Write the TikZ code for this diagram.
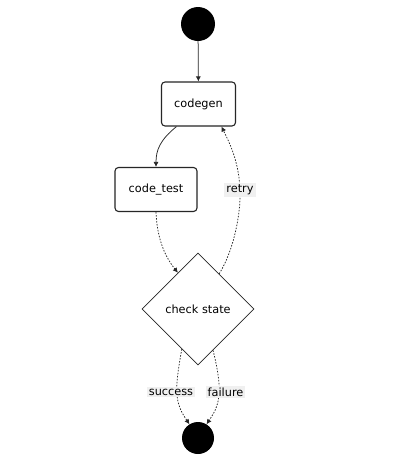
\documentclass[tikz,border=0pt]{standalone}
\usepackage{fontspec}
\setmainfont{DejaVu Sans}
\usetikzlibrary{shapes.geometric, arrows.meta}

\begin{document}
\begin{tikzpicture}[x=1pt, y=-1pt, font=\fontsize{11.3}{13}\selectfont,
	state/.style={draw=black!85, line width=1.1pt, rounded corners=3.5pt, fill=white, minimum height=44pt, inner sep=0pt},
	trans/.style={->, >={Latex[length=5pt, width=5pt]}, line width=0.75pt, black!85},
	cond/.style={trans, dash pattern=on 1.5pt off 1.5pt},
	lbl/.style={fill=black!6, inner sep=2pt}]% {{{ codegen loop
	\useasboundingbox[fill=white] (0,0) rectangle (411,469);

	\node[circle, fill=black, minimum size=34pt, inner sep=0pt] (start) at (198,24) {};
	\node[state, minimum width=74pt] (codegen) at (198.5,104) {codegen};
	\node[state, minimum width=82pt] (codetest) at (156,189.5) {code\_test};
	\node[diamond, draw=black!85, line width=0.8pt, fill=white, minimum size=112pt, inner sep=0pt] (check) at (198,309) {check state};
	\node[circle, fill=black, minimum size=32pt, inner sep=0pt] (final) at (198,438) {};

	\draw[trans] (start) -- (codegen);
	\draw[trans] ([xshift=-22pt]codegen.south) .. controls (160,140) and (156,150) .. (codetest.north);
	\draw[cond] (codetest.south) .. controls (157,240) and (166,258) .. (check.119);
	\draw[cond] (check.59) .. controls (233,252) and (241,215) .. (240,190)
		.. controls (239,160) and (228,140) .. ([xshift=23pt]codegen.south);
	\node[lbl] (retry) at (240,190) {retry};
	\draw[cond] (check.-112) .. controls (178,370) and (176,385) .. (177,395)
		.. controls (178,408) and (184,416) .. (final.122);
	\node[lbl] (success) at (171,392) {success};
	\draw[cond] (check.-70) .. controls (218,370) and (220,385) .. (219,395)
		.. controls (218,408) and (212,416) .. (final.58);
	\node[lbl] (failure) at (225.5,392) {failure};
	% }}}
\end{tikzpicture}
\end{document}
